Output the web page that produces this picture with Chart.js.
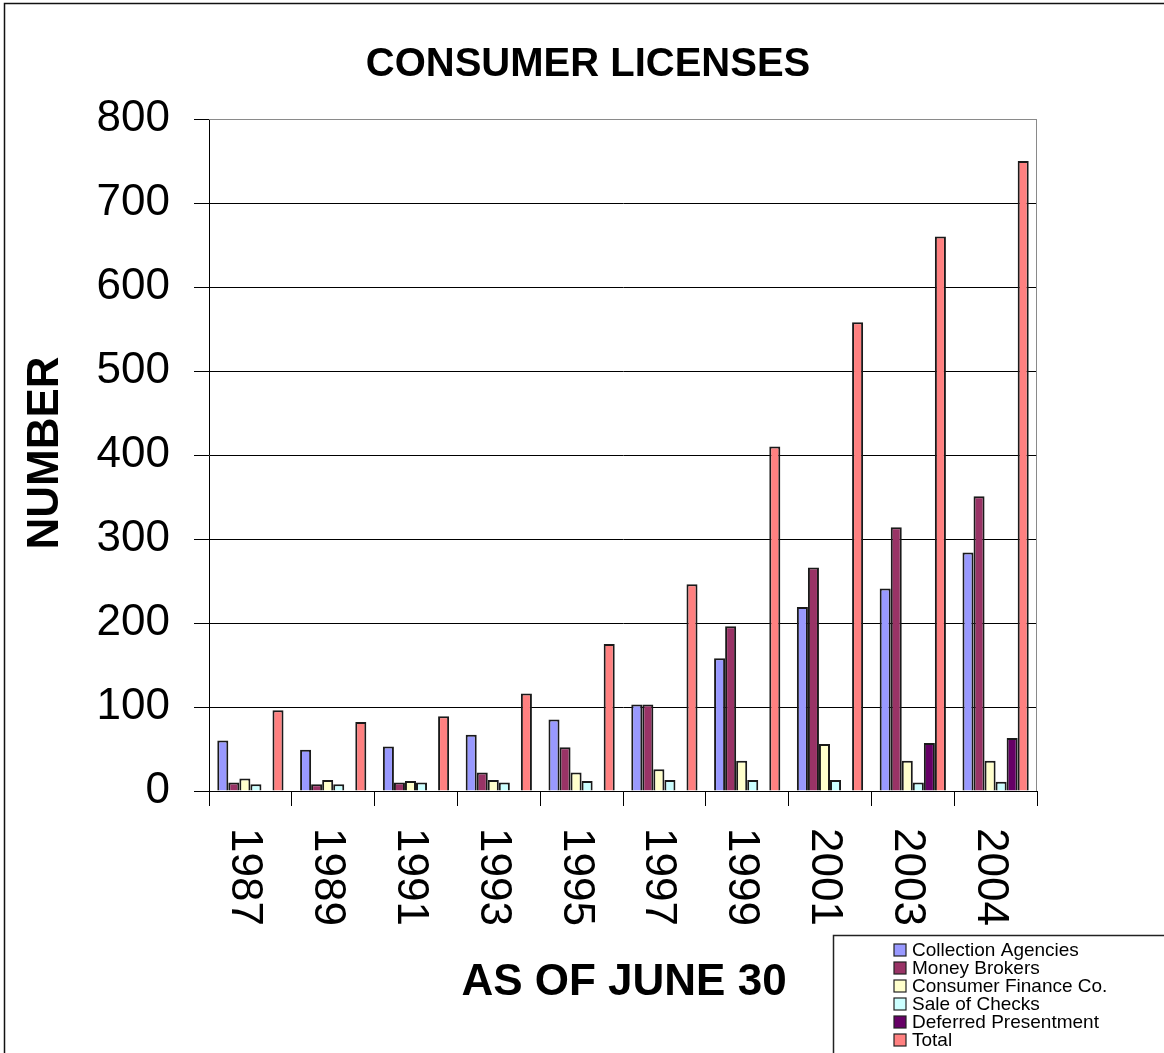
<!DOCTYPE html>
<html>
<head>
<meta charset="utf-8">
<script src="https://cdn.jsdelivr.net/npm/chart.js@4.4.1/dist/chart.umd.min.js"></script>
<style>
  html, body { margin: 0; padding: 0; background: #fff; }
  #wrap { width: 1164px; height: 1053px; }
</style>
</head>
<body>
<div id="wrap"><canvas id="c" width="1164" height="1053"></canvas></div>
<script>
const years = ['1987','1989','1991','1993','1995','1997','1999','2001','2003','2004'];
const collectionAgencies = [60, 49, 53, 67, 85, 103, 158, 219, 241, 284];
const moneyBrokers = [10, 8, 10, 22, 52, 103, 196, 266, 314, 351];
const consumerFinance = [15, 13, 12, 13, 22, 26, 36, 56, 36, 36];
const saleOfChecks = [8, 8, 10, 10, 12, 13, 13, 13, 10, 11];
const deferredPresentment = [null, null, null, null, null, null, null, null, 57, 63];
const total = [96, 82, 89, 116, 175, 246, 410, 558, 660, 750];
const yTicks = [0, 100, 200, 300, 400, 500, 600, 700, 800];

const FONT = "'Liberation Sans', Arial, Helvetica, sans-serif";

const decor = {
  id: 'decor',
  afterDraw(chart) {
    const ctx = chart.ctx;
    const ca = chart.chartArea;
    const xs = chart.scales.x;
    ctx.save();
    // outer frame (left + top)
    ctx.strokeStyle = '#111';
    ctx.lineWidth = 1.5;
    ctx.beginPath();
    ctx.moveTo(4.5, 1053);
    ctx.lineTo(4.5, 3.5);
    ctx.lineTo(1164, 3.5);
    ctx.stroke();
    // plot frame top & right (gray)
    ctx.strokeStyle = '#8a8a8a';
    ctx.lineWidth = 1;
    ctx.beginPath();
    ctx.moveTo(ca.left, ca.top + 0.5);
    ctx.lineTo(ca.right - 0.5, ca.top + 0.5);
    ctx.lineTo(ca.right - 0.5, ca.bottom);
    ctx.stroke();
    // title
    ctx.fillStyle = '#000';
    ctx.textAlign = 'center';
    ctx.textBaseline = 'alphabetic';
    ctx.font = 'bold 40px ' + FONT;
    ctx.fillText('CONSUMER LICENSES', 588, 76);
    // x axis title
    ctx.font = 'bold 44px ' + FONT;
    ctx.fillText('AS OF JUNE 30', 624, 995);
    // y axis title
    ctx.save();
    ctx.translate(58, 453);
    ctx.rotate(-Math.PI / 2);
    ctx.fillText('NUMBER', 0, 0);
    ctx.restore();
    // x tick labels rotated clockwise
    ctx.font = '44px ' + FONT;
    ctx.textAlign = 'left';
    chart.data.labels.forEach((lab, i) => {
      const x = xs.getPixelForTick(i);
      ctx.save();
      ctx.translate(x - 18, 828);
      ctx.rotate(Math.PI / 2);
      ctx.fillText(lab, 0, 0);
      ctx.restore();
    });
    // legend
    ctx.fillStyle = '#fff';
    ctx.fillRect(833.5, 935.5, 340, 130);
    ctx.strokeStyle = '#222';
    ctx.lineWidth = 1.5;
    ctx.strokeRect(833.5, 935.5, 340, 130);
    ctx.font = '19px ' + FONT;
    ctx.textBaseline = 'middle';
    chart.data.datasets.forEach((ds, i) => {
      const cy = 950 + i * 18;
      ctx.fillStyle = ds.backgroundColor;
      ctx.fillRect(894, cy - 6, 12, 12);
      ctx.strokeStyle = '#222';
      ctx.lineWidth = 1.2;
      ctx.strokeRect(894, cy - 6, 12, 12);
      ctx.fillStyle = '#000';
      ctx.fillText(ds.label, 912, cy + 1);
    });
    ctx.restore();
  }
};

const common = { borderColor: '#1a1a1a', borderWidth: 2, categoryPercentage: 0.8, barPercentage: 1.0 };

new Chart(document.getElementById('c'), {
  type: 'bar',
  data: {
    labels: years,
    datasets: [
      { label: 'Collection Agencies', data: collectionAgencies, backgroundColor: '#9999FF', ...common },
      { label: 'Money Brokers', data: moneyBrokers, backgroundColor: '#993366', ...common },
      { label: 'Consumer Finance Co.', data: consumerFinance, backgroundColor: '#FFFFCC', ...common },
      { label: 'Sale of Checks', data: saleOfChecks, backgroundColor: '#CCFFFF', ...common },
      { label: 'Deferred Presentment', data: deferredPresentment, backgroundColor: '#660066', ...common },
      { label: 'Total', data: total, backgroundColor: '#FF8080', ...common }
    ]
  },
  options: {
    responsive: false,
    animation: false,
    layout: { padding: { left: 0, right: 127, top: 119, bottom: 0 } },
    plugins: { legend: { display: false }, title: { display: false }, tooltip: { enabled: false } },
    scales: {
      x: {
        offset: true,
        grid: { display: true, drawOnChartArea: false, drawTicks: true, tickLength: 15, color: '#000', offset: true },
        border: { display: true, color: '#000', width: 1 },
        ticks: { display: false },
        afterFit(scale) { scale.height = 262; }
      },
      y: {
        min: 0, max: 800,
        afterBuildTicks(scale) { scale.ticks = yTicks.map(v => ({ value: v })); },
        grid: {
          color: ctx => (ctx.tick && ctx.tick.value === 800) ? '#8a8a8a' : '#000',
          tickColor: '#000', tickLength: 15, lineWidth: 1
        },
        border: { display: true, color: '#000', width: 1 },
        ticks: { color: '#000', padding: 24, font: { family: FONT, size: 44 } },
        afterFit(scale) { scale.width = 209; }
      }
    }
  },
  plugins: [decor]
});
</script>
</body>
</html>
